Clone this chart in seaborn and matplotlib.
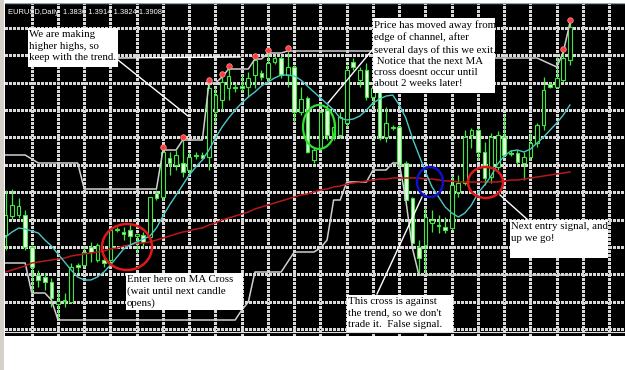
import numpy as np
import pandas as pd
import matplotlib
matplotlib.use("Agg")
import matplotlib.pyplot as plt
from matplotlib.patches import Rectangle, Ellipse
from matplotlib.collections import LineCollection
import seaborn as sns

# ---------------- data (daily EURUSD candles, chart price points) ----------------
open_ = [105,124,125,125,93,65,63,58,36,40,
         38,75,75,93,80,80,80,111,108,110,
         104,105,103,147,143,182,175,177,170,185,
         185,183,228,240,252,253,254,253,265,267,
         262,278,282,265,273,228,242,180,192,230,
         205,205,217,278,260,270,243,250,203,213,
         213,177,142,93,95,117,115,113,112,148,
         157,205,210,188,163,173,203,187,187,177,
         183,197,215,256,253,260,280]
high = [150,151,142,130,95,70,67,62,50,47,
        77,77,93,98,97,83,112,113,113,117,
        107,108,143,150,190,188,190,200,188,188,
        188,257,253,263,271,256,266,268,281,270,
        287,284,284,289,275,253,244,193,230,235,
        220,228,275,282,273,277,256,252,233,215,
        215,179,143,100,133,130,125,123,165,165,
        210,212,212,198,207,209,225,190,190,188,
        207,217,263,258,283,288,317]
low = [90,121,122,90,47,53,50,33,20,33,
       37,67,73,78,78,73,78,108,100,95,
       87,93,100,140,140,165,170,163,165,181,
       180,170,217,230,240,248,248,243,252,260,
       258,276,262,253,218,225,187,177,190,200,
       200,202,213,270,253,240,233,200,198,210,
       173,140,93,67,67,108,107,107,110,143,
       155,192,180,155,157,170,183,184,176,160,
       180,193,210,252,252,258,275]
close = [125,135,134,93,73,60,58,42,39,39,
         73,73,88,88,95,77,110,110,106,104,
         106,98,143,142,188,177,185,168,183,184,
         182,252,245,258,264,252,252,262,280,263,
         277,282,265,273,228,241,188,190,228,205,
         213,223,270,273,270,243,252,202,217,212,
         175,140,97,82,123,120,114,110,155,157,
         203,210,188,162,203,205,185,186,178,183,
         197,215,250,253,262,282,313]
upper_channel = [185,185,185,185,181,177,177,177,177,177,
                 177,177,151,151,151,151,151,151,151,151,
                 151,151,151,151,190,190,190,200,200,200,
                 200,257,257,263,271,271,271,271,281,281,
                 287,287,287,289,289,289,289,289,289,289,
                 289,289,289,289,289,289,289,289,289,289,
                 289,289,289,289,289,289,289,289,289,289,
                 289,282,282,282,282,282,282,282,282,282,
                 282,282,279,276,273,288,317]
lower_channel = [77,77,77,77,47,47,47,40,20,20,
                 20,20,20,20,20,20,20,20,20,20,
                 20,20,20,20,20,20,20,20,20,20,
                 20,20,20,20,20,20,30,38,68,68,
                 68,68,68,78,88,88,88,88,92,100,
                 140,140,158,158,158,158,170,170,170,177,
                 177,140,92,65,65,65,65,65,65,65,
                 65,65,65,65,65,65,65,65,65,65,
                 65,65,65,65,65,65,65]
ma_fast = [103,108,112,111,109,107,100,94,86,78,
           70,63,60,60,63,68,75,83,91,95,
           98,101,104,112,124,135,145,155,165,173,
           180,190,202,213,222,230,237,243,248,254,
           258,262,265,265,264,260,254,248,242,236,
           230,222,220,221,224,230,237,241,244,245,
           235,222,202,185,168,153,143,133,127,123,
           127,135,147,155,164,176,184,189,190,188,
           191,197,203,210,217,225,235]
ma_slow = [68,70,72,74,77,78,79,80,81,82,
           84,85,86,87,88,89,91,92,94,95,
           97,97,98,100,102,104,106,108,109,111,
           112,115,117,120,122,124,126,128,131,133,
           135,137,139,141,143,145,146,148,150,151,
           153,154,156,157,158,159,160,161,161,162,
           162,162,162,162,161,161,160,159,159,158,
           158,158,158,158,158,158,159,160,160,161,
           162,163,164,165,166,167,168]
new_high_days = [24, 27, 31, 33, 34, 38, 40, 43, 85, 86]

header = "EURUSD,Daily  1.3836 1.3914 1.3824 1.3908"
note_trend = "We are making\nhigher highs, so\nkeep with the trend."
note_exit = ("Price has moved away from\nedge of channel, after\nseveral days of this we exit.\n"
             " Notice that the next MA\ncross doesnt occur until\nabout 2 weeks later!")
note_enter = "Enter here on MA Cross\n(wait until next candle\nopens)"
note_false = "This cross is against\nthe trend, so we don't\ntrade it.  False signal."
note_next = "Next entry signal, and\nup we go!"

df = pd.DataFrame({"day": np.arange(len(open_)), "open": open_, "high": high,
                   "low": low, "close": close, "upper": upper_channel,
                   "lower": lower_channel, "fast": ma_fast, "slow": ma_slow})

# ---------------- layout helpers (screen pixels -> chart coordinates) ----------------
W, H = 625, 370
STEP = 6.5625          # pixels per candle
X0 = 5.5               # pixel x of first candle
def cx(px):
    return (px - X0) / STEP
def cy(py):
    return 340 - py

fig = plt.figure(figsize=(W / 100, H / 100), dpi=100)
fig.patch.set_facecolor("white")
fig.patches.append(Rectangle((0, 0), 4 / W, 1, transform=fig.transFigure,
                             facecolor="#d4d0c8", edgecolor="none", zorder=-1))

ax = fig.add_axes([5 / W, 34 / H, 620 / W, 333 / H])
ax.set_facecolor("black")
for s in ax.spines.values():
    s.set_visible(False)
ax.set_xlim(cx(5), cx(625))
ax.set_ylim(cy(336), cy(3))

# dashed grid, every 4 candles / every 27.4 px (segments drawn as short dashes)
GRID = "#d8d8d8"
grid_x = np.arange(4, 95, 4)
grid_y = [cy(28 + 27.36 * k) for k in range(12)]
vseg = []
for gx in grid_x:
    for yy in np.arange(cy(336), cy(3), 4.0):
        vseg.append([(gx, yy), (gx, yy + 2.0)])
hseg = []
for gy in grid_y:
    for xx in np.arange(cx(5), cx(625), 4.0 / STEP):
        hseg.append([(xx, gy), (xx + 2.0 / STEP, gy)])
ax.add_collection(LineCollection(vseg, colors=GRID, linewidths=0.8, zorder=1,
                                 antialiased=False))
ax.add_collection(LineCollection(hseg, colors=GRID, linewidths=0.8, zorder=1,
                                 antialiased=False))

# window title strip
ax.axhspan(cy(3.5), cy(0), color="#8ea2b8", zorder=11)

GREEN = "#3ee83e"
PALE = "#e6ffe0"
o = df["open"].to_numpy(float)
c = df["close"].to_numpy(float)
bull = c >= o
ax.vlines(df["day"], df["low"], df["high"], color=GREEN, lw=0.9, zorder=3)
heights = np.maximum(np.abs(c - o), 1.2)
ax.bar(df["day"], heights, bottom=np.minimum(o, c), width=0.56,
       color=np.where(bull, "black", PALE), edgecolor=GREEN, linewidth=0.8, zorder=4)

# channel and moving averages
sns.lineplot(data=df, x="day", y="upper", ax=ax, color="#cfcfcf", lw=1.1, zorder=5, legend=False)
sns.lineplot(data=df, x="day", y="lower", ax=ax, color="#cfcfcf", lw=1.1, zorder=5, legend=False)
sns.lineplot(data=df, x="day", y="slow", ax=ax, color="#b81818", lw=1.1, zorder=5, legend=False)
sns.lineplot(data=df, x="day", y="fast", ax=ax, color="#4cc8c8", lw=1.0, zorder=5, legend=False)

mk = df.loc[new_high_days]
sns.scatterplot(x=mk["day"], y=mk["high"] + 3, ax=ax, color="#ff3a3a", s=16,
                edgecolor="#ffa0a0", linewidth=0.5, zorder=6, legend=False)

# circles
def circle(xc, yc, w, h, col, lw):
    ax.add_patch(Ellipse((cx(xc), cy(yc)), w / STEP, h, fill=False,
                         edgecolor=col, lw=lw, zorder=7))
circle(127, 247, 50, 46, "#e01818", 1.8)
circle(319, 127, 32, 44, "#30e030", 1.6)
circle(430, 182, 26, 30, "#1010c8", 1.8)
circle(485.5, 182.5, 35, 31, "#e01818", 1.8)

# leader lines
def leader(x1, y1, x2, y2):
    ax.plot([cx(x1), cx(x2)], [cy(y1), cy(y2)], color="white", lw=1.0, zorder=8)
leader(118, 58, 240, 57)
leader(118, 60, 188, 116)
leader(373, 49, 328, 103)
leader(377, 294, 422, 197)
leader(500, 195, 528, 220)

# note boxes
FS = 7.8
def note(x1, y1, x2, y2, text):
    ax.add_patch(Rectangle((cx(x1), cy(y2)), (x2 - x1) / STEP, y2 - y1,
                           facecolor="white", edgecolor="none", zorder=9))
    ax.text(cx(x1 + 1), cy(y1 + 2.5), text, ha="left", va="top", fontsize=FS,
            family="Liberation Serif", color="black", linespacing=1.32, zorder=10)
note(28, 28, 118, 67, note_trend)
note(373, 18, 495, 93, note_exit)
note(126, 273, 243, 310, note_enter)
note(347, 295, 453, 333, note_false)
note(510, 220, 608, 258, note_next)

# header and frame line
ax.text(cx(8), cy(13), header, ha="left", va="center", fontsize=5.4,
        family="Liberation Sans", color="white", zorder=10)
ax.axhline(cy(332), color="#e0e0e0", lw=0.8, zorder=10)

ax.set_xlim(cx(5), cx(625))
ax.set_ylim(cy(336), cy(3))
ax.set_xticks([])
ax.set_yticks([])
ax.set_xlabel("")
ax.set_ylabel("")

fig.savefig("out.png", dpi=100, facecolor="white")
